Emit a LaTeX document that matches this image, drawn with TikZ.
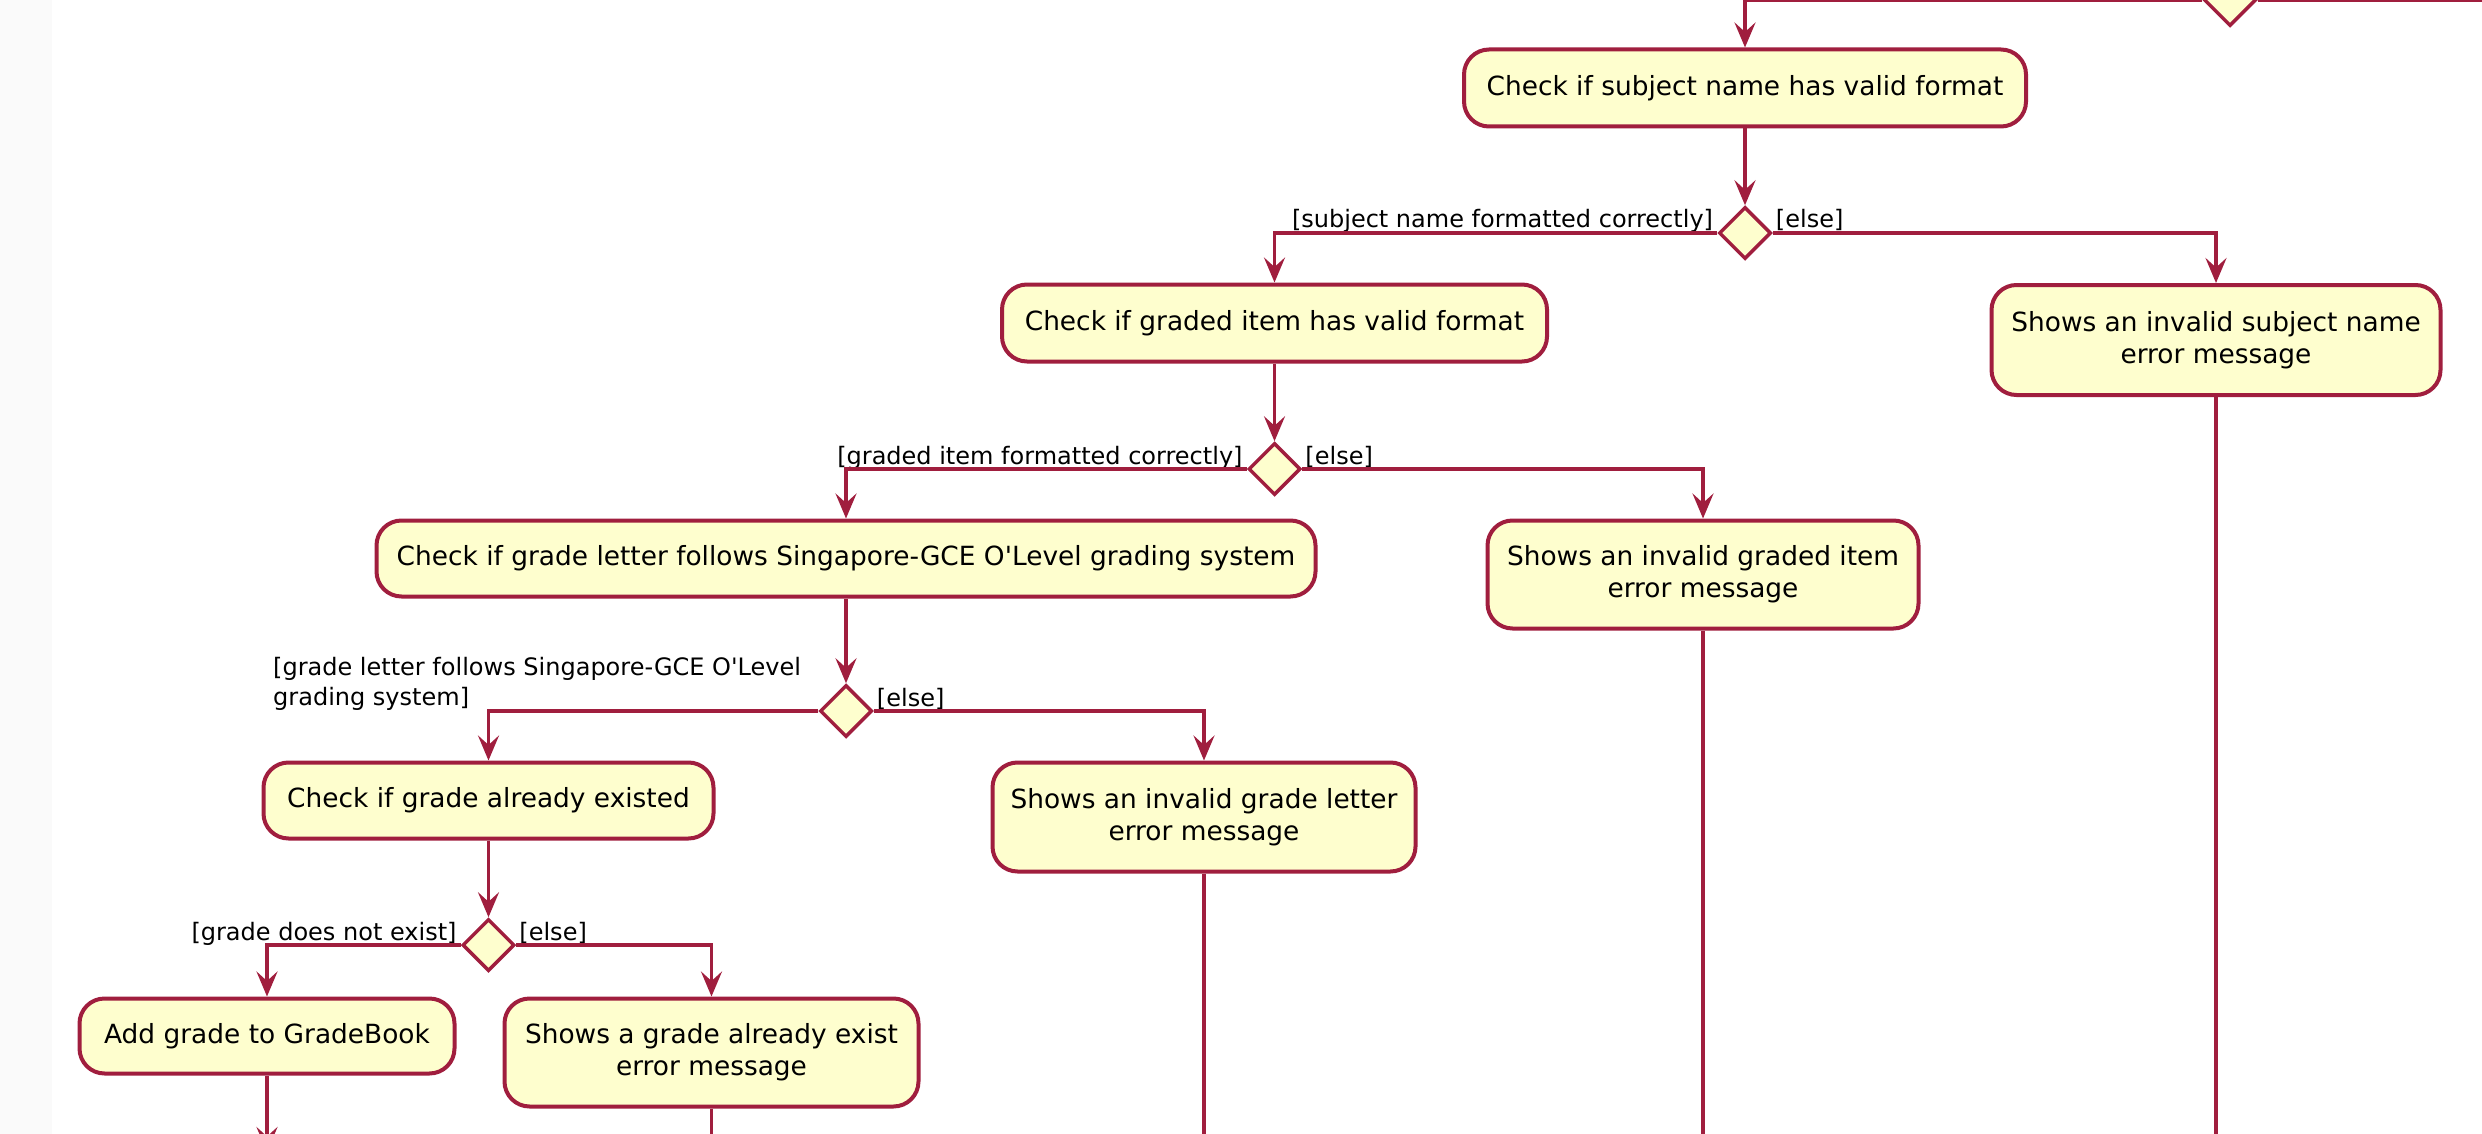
\documentclass[tikz,border=0pt]{standalone}
\usepackage{fontspec}
\setmainfont{DejaVu Sans}[Ligatures=TeXOff]
\usetikzlibrary{arrows.meta,shapes.geometric}
\definecolor{umlborder}{HTML}{A01E3E}
\definecolor{umlfill}{HTML}{FEFECE}
\definecolor{stripgray}{HTML}{FAFAFA}
\tikzset{
  act/.style={draw=umlborder, fill=umlfill, line width=4pt, rounded corners=25pt,
    align=center, inner sep=0pt, font=\fontsize{26.4}{32}\selectfont},
  dec/.style={draw=umlborder, fill=umlfill, line width=3.5pt, shape=diamond,
    minimum width=52pt, minimum height=52pt, inner sep=0pt, aspect=1},
  flow/.style={draw=umlborder, line width=3.4pt},
  arr/.style={flow, -{Stealth[length=25pt,width=21pt,inset=9.5pt]}},
  guard/.style={inner sep=0pt, font=\fontsize{24}{30}\selectfont},
}
\begin{document}
\begin{tikzpicture}[x=1pt,y=-1pt]
\clip (0,0) rectangle (2482,1134);
\fill[stripgray] (0,0) rectangle (52,1134);

% coordinates beyond the bottom / right edges
\coordinate (bot) at (0,1145);
\coordinate (hb) at (0,1152);
\coordinate (tr) at (2495,0);

% nodes
\node[dec] (T) at (2230,0) {};
\node[act, minimum width=562pt, minimum height=77pt] (A) at (1745,88) {Check if subject name has valid format};
\node[dec] (D1) at (1745,233) {};
\node[act, minimum width=545pt, minimum height=77pt] (B) at (1274.5,323) {Check if graded item has valid format};
\node[act, minimum width=449pt, minimum height=110pt] (C) at (2216,340) {Shows an invalid subject name\\error message};
\node[dec] (D2) at (1274.5,469) {};
\node[act, minimum width=939pt, minimum height=76pt] (D) at (846,558.5) {Check if grade letter follows Singapore-GCE O'Level grading system};
\node[act, minimum width=431pt, minimum height=108pt] (E) at (1703,574.5) {Shows an invalid graded item\\error message};
\node[dec] (D3) at (846,711) {};
\node[act, minimum width=450pt, minimum height=76pt] (F) at (488.5,800.5) {Check if grade already existed};
\node[act, minimum width=423pt, minimum height=109pt] (G) at (1204,817) {Shows an invalid grade letter\\error message};
\node[dec] (D4) at (488.5,945) {};
\node[act, minimum width=375pt, minimum height=75pt] (H) at (267,1036) {Add grade to GradeBook};
\node[act, minimum width=414pt, minimum height=108pt] (I) at (711.5,1052.5) {Shows a grade already exist\\error message};

% guards
\node[guard, anchor=base east] (g1) at ([xshift=-4pt,yshift=5pt]D1.west) {[subject name formatted correctly]};
\node[guard, anchor=base west] (g2) at ([xshift=3pt,yshift=5pt]D1.east) {[else]};
\node[guard, anchor=base east] (g3) at ([xshift=-4pt,yshift=5pt]D2.west) {[graded item formatted correctly]};
\node[guard, anchor=base west] (g4) at ([xshift=3pt,yshift=5pt]D2.east) {[else]};
\node[guard, anchor=base west, align=left] (g5) at (273,705) {[grade letter follows Singapore-GCE O'Level\\grading system]};
\node[guard, anchor=base west] (g6) at ([xshift=3pt,yshift=5pt]D3.east) {[else]};
\node[guard, anchor=base east] (g7) at ([xshift=-4pt,yshift=5pt]D4.west) {[grade does not exist]};
\node[guard, anchor=base west] (g8) at ([xshift=3pt,yshift=5pt]D4.east) {[else]};

% connectors
\draw[arr] (T.west) -| (A.north);
\draw[flow] (T.east) -- (tr);
\draw[arr] (A.south) -- (D1.north);
\draw[arr] (D1.west) -| (B.north);
\draw[arr] (D1.east) -| (C.north);
\draw[flow] (C.south) -- (C.south |- bot);
\draw[arr] (B.south) -- (D2.north);
\draw[arr] (D2.west) -| (D.north);
\draw[arr] (D2.east) -| (E.north);
\draw[flow] (E.south) -- (E.south |- bot);
\draw[arr] (D.south) -- (D3.north);
\draw[arr] (D3.west) -| (F.north);
\draw[arr] (D3.east) -| (G.north);
\draw[flow] (G.south) -- (G.south |- bot);
\draw[arr] (F.south) -- (D4.north);
\draw[arr] (D4.west) -| (H.north);
\draw[arr] (D4.east) -| (I.north);
\draw[arr] (H.south) -- (H.south |- hb);
\draw[flow] (I.south) -- (I.south |- bot);
\end{tikzpicture}
\end{document}
